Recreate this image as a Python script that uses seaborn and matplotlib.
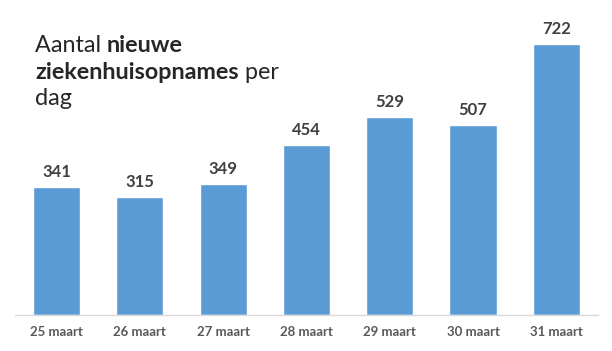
import matplotlib
matplotlib.use("Agg")
import matplotlib.pyplot as plt
import seaborn as sns
import pandas as pd

categories = ["25 maart", "26 maart", "27 maart", "28 maart", "29 maart", "30 maart", "31 maart"]
values = [341, 315, 349, 454, 529, 507, 722]

sns.set_theme(style="white")
plt.rcParams['font.family'] = ['Lato', 'DejaVu Sans']

df = pd.DataFrame({"dag": categories, "opnames": values})

fig = plt.figure(figsize=(6.12, 3.51), dpi=100)
W, H = 612, 351
left, right = 14.8, 598
top, bottom = 15, 315
ax = fig.add_axes([left / W, 1 - bottom / H, (right - left) / W, (bottom - top) / H])

sns.barplot(data=df, x="dag", y="opnames", color="#5B9BD5", width=0.565, ax=ax,
            saturation=1)
ax.set_ylim(0, 800)
ax.set_xlim(-0.5, len(categories) - 0.5)
ax.set_xlabel("")
ax.set_ylabel("")
ax.set_yticks([])
for s in ["top", "right", "left"]:
    ax.spines[s].set_visible(False)
ax.spines["bottom"].set_color("#D9D9D9")
ax.spines["bottom"].set_linewidth(1.0)
ax.tick_params(axis="x", length=0, pad=8, labelsize=9.5, labelcolor="#595959")
for lab in ax.get_xticklabels():
    lab.set_fontweight("bold")

for c in ax.containers:
    ax.bar_label(c, labels=[str(v) for v in values], padding=5, fontsize=12,
                 fontweight="bold", color="#404040")

tc = "#262626"
fs = 16.8
t1 = fig.text(35 / W, 1 - 52 / H, "Aantal ", fontsize=fs, color=tc, va="baseline", ha="left")
ax.annotate("nieuwe", xy=(1, 0), xycoords=t1, va="bottom", ha="left",
            fontsize=fs, color=tc, fontweight="bold")
t2 = fig.text(35 / W, 1 - 79 / H, "ziekenhuisopnames", fontsize=fs, color=tc,
              va="baseline", ha="left", fontweight="bold")
ax.annotate(" per", xy=(1, 0), xycoords=t2, va="bottom", ha="left",
            fontsize=fs, color=tc)
fig.text(35 / W, 1 - 105 / H, "dag", fontsize=fs, color=tc, va="baseline", ha="left")

fig.savefig("out.png", dpi=100)
